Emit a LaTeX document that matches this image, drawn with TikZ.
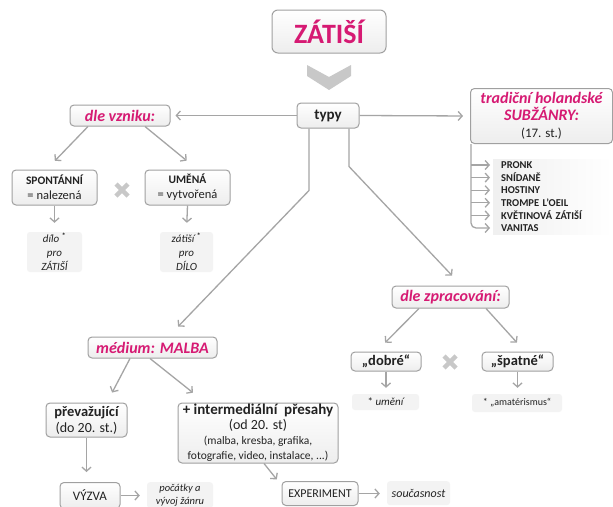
\documentclass[tikz,border=0pt]{standalone}
\usepackage{fontspec}
\setmainfont{Carlito}
\usetikzlibrary{arrows.meta,calc}
\definecolor{mag}{RGB}{214,26,115}
\definecolor{lnc}{RGB}{165,165,165}
\definecolor{bd}{RGB}{160,160,160}
\definecolor{xg}{RGB}{200,200,200}
\definecolor{lf}{RGB}{243,243,243}
\definecolor{tx}{RGB}{34,34,34}
\tikzset{
 box/.style={draw=bd, line width=1pt, rounded corners=4pt, top color=white, bottom color=black!7, inner sep=1pt, align=center, text=tx},
 note/.style={fill=lf, rounded corners=3pt, inner sep=0pt, align=center, text=tx, font=\fontsize{11}{14}\selectfont\itshape},
 arr/.style={draw=lnc, line width=1.3pt, -{Straight Barb[length=4pt,width=9pt]}},
 plainline/.style={draw=lnc, line width=1.3pt},
 item/.style={anchor=west, left color=black!6, right color=white, minimum width=119pt, minimum height=12pt, inner sep=0pt, inner xsep=8pt, text width=103pt, font=\fontsize{10.5}{11}\selectfont\bfseries, text=tx},
 xmark/.style={draw=xg, line width=4.5pt},
 title/.style={font=\bfseries\itshape\fontsize{16}{17}\selectfont, text=mag}
}
\begin{document}
\begin{tikzpicture}[x=1pt,y=-1pt]
\useasboundingbox (0,0) rectangle (613,506);
\clip (0,0) rectangle (613,506);
\fill[white] (0,0) rectangle (613,506);

% title
\node[box, minimum width=114pt, minimum height=43pt, rounded corners=6pt, font=\bfseries\fontsize{28}{30}\selectfont, text=mag] (zatisi) at (329,31.5) {ZÁTIŠÍ};
\fill[xg] (307,65) -- (329,77) -- (351,65) -- (351,76) -- (329,90) -- (307,76) -- cycle;

\node[box, minimum width=62pt, minimum height=25pt, font=\bfseries\fontsize{15}{16}\selectfont] (typy) at (328,115.5) {typy};

% left branch: dle vzniku
\node[box, title, minimum width=100pt, minimum height=21pt] (vznik) at (120,115.5) {dle vzniku:};
\node[box, minimum width=85pt, minimum height=35pt, font=\fontsize{12.5}{15}\selectfont] (spont) at (54.5,187.5) {{\fontsize{11.5}{15}\selectfont\bfseries SPONTÁNNÍ}\\= nalezená};
\node[box, minimum width=85pt, minimum height=35pt, font=\fontsize{12.5}{15}\selectfont] (umena) at (187.5,187.5) {{\fontsize{11.5}{15}\selectfont\bfseries UMĚNÁ}\\= vytvořená};
\draw[xmark] (116,184) -- (128,196) (116,196) -- (128,184);
\node[note, minimum width=55pt, minimum height=40pt] (dilo) at (54.5,252) {dílo \textsuperscript{\upshape\bfseries *}\\pro\\ZÁTIŠÍ};
\node[note, minimum width=53pt, minimum height=40pt] (zat2) at (186.5,252) {zátiší \textsuperscript{\upshape\bfseries *}\\pro\\DÍLO};

\draw[arr, shorten >=5pt] (typy.west) -- (vznik.east);
\draw[arr, shorten >=12pt] ([xshift=-32pt]vznik.south) -- ([xshift=-8pt]spont.north);
\draw[arr, shorten >=14pt] ([xshift=25pt]vznik.south) -- ([xshift=10pt]umena.north);
\draw[arr, shorten >=9pt] (spont.south) -- (dilo.north);
\draw[arr, shorten >=9pt] (umena.south) -- (zat2.north);

% right branch: subgenres
\node[box, anchor=north west, minimum width=142pt, minimum height=55pt, font=\fontsize{16}{17}\selectfont] (trad) at (470,88) {\textcolor{mag}{\bfseries\itshape tradiční holandské}\\\textcolor{mag}{\bfseries\itshape SUBŽÁNRY:}\\{\fontsize{13}{17}\selectfont (17. st.)}};
\draw[arr, shorten >=7pt] (typy.east) -- (trad.west);
\coordinate (vl) at ([xshift=1pt]trad.south west);
\node[item] (it1) at (493,165) {PRONK};
\node[item] (it2) at (493,177.6) {SNÍDANĚ};
\node[item] (it3) at (493,190.2) {HOSTINY};
\node[item] (it4) at (493,202.8) {TROMPE L'OEIL};
\node[item] (it5) at (493,215.4) {KVĚTINOVÁ ZÁTIŠÍ};
\node[item] (it6) at (493,228) {VANITAS};
\draw[arr, rounded corners=5pt, shorten >=3pt] (vl) |- (it6.west);
\foreach \k in {1,...,5} {\draw[arr, shorten >=3pt] (vl |- it\k.west) -- (it\k.west);}

% lower right: dle zpracovani
\node[box, title, minimum width=117pt, minimum height=22pt] (zprac) at (450.5,297) {dle zpracování:};
\draw[arr, shorten >=13.7pt] ([xshift=21pt]typy.south) -- ++(0,38) -- ([xshift=11pt]zprac.north);
\node[box, minimum width=70pt, minimum height=19pt, font=\bfseries\fontsize{14.5}{15}\selectfont] (dobre) at (386,361.5) {„dobré“};
\node[box, minimum width=71pt, minimum height=19pt, font=\bfseries\fontsize{14.5}{15}\selectfont] (spatne) at (517.5,361.5) {„špatné“};
\draw[xmark] (444,356) -- (456,368) (444,368) -- (456,356);
\draw[arr, shorten >=12.5pt] ([xshift=-31.5pt]zprac.south) -- ([xshift=-9.7pt]dobre.north);
\draw[arr, shorten >=12pt] ([xshift=35.5pt]zprac.south) -- ([xshift=7.5pt]spatne.north);
\node[note, minimum width=67pt, minimum height=16pt] (umeni) at (385.5,402) {{\upshape *} umění};
\node[note, minimum width=90pt, minimum height=18pt, font=\fontsize{10}{12}\selectfont] (amat) at (517,403) {* „amatérismus“};
\draw[arr, shorten >=6pt] (dobre.south) -- (dobre.south |- umeni.north);
\draw[arr, shorten >=6pt] (spatne.south) -- (spatne.south |- amat.north);

% lower left: medium
\node[box, title, minimum width=129pt, minimum height=21pt] (medium) at (152.5,347.5) {médium: MALBA};
\draw[arr, shorten >=13.8pt] ([xshift=-19pt]typy.south) -- ++(0,62) -- ([xshift=16pt]medium.north);
\node[box, minimum width=81pt, minimum height=34pt, font=\fontsize{14}{16}\selectfont] (prev) at (86.5,420) {{\fontsize{14.5}{16}\selectfont\bfseries převažující}\\(do 20. st.)};
\node[box, minimum width=160pt, minimum height=60pt, font=\fontsize{14}{15}\selectfont] (inter) at (258,433) {{\fontsize{15}{16}\selectfont\bfseries + intermediální\ \ přesahy}\\(od 20. st)\\{\fontsize{11.5}{13}\selectfont (malba, kresba, grafika,}\\{\fontsize{11.5}{13}\selectfont fotografie, video, instalace, ...)}};
\draw[arr, shorten >=11.2pt] ([xshift=-22.5pt]medium.south) -- ([xshift=20.4pt]prev.north);
\draw[arr, shorten >=15.8pt] ([xshift=-2.5pt]medium.south) -- ([xshift=-52.7pt]inter.north);

\node[box, anchor=north, minimum width=60pt, minimum height=26pt, font=\fontsize{13}{14}\selectfont] (vyzva) at (90,482) {VÝZVA};
\node[note, anchor=north, minimum width=66pt, minimum height=26pt, font=\fontsize{10.5}{13}\selectfont\itshape] (pocatky) at (180,482) {počátky a\\vývoj žánru};
\draw[arr, shorten >=10pt] (prev.south) -- (prev.south |- vyzva.north);
\draw[arr, shorten >=7pt] (vyzva.east) -- (vyzva.east -| pocatky.west);

\node[box, anchor=north, minimum width=76pt, minimum height=24pt, font=\fontsize{12}{13}\selectfont] (exper) at (320,481) {EXPERIMENT};
\node[note, anchor=north, minimum width=63pt, minimum height=24pt, font=\fontsize{12}{13}\selectfont\itshape] (soucas) at (418.5,481) {současnost};
\draw[arr, shorten >=2pt] ([xshift=6pt]inter.south) -- ([xshift=-42pt]exper.north);
\draw[arr, shorten >=7pt] (exper.east) -- (exper.east -| soucas.west);
\end{tikzpicture}
\end{document}
